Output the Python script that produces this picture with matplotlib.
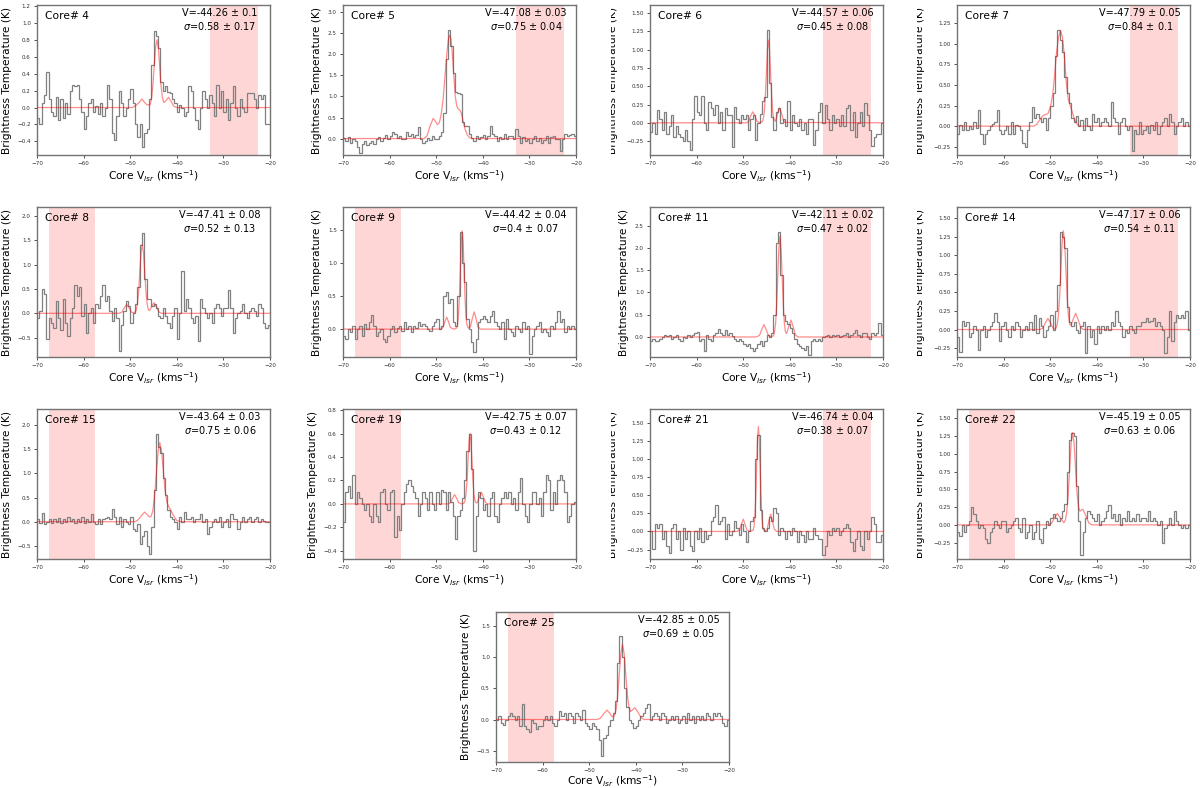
import matplotlib
matplotlib.use('Agg')
import matplotlib.pyplot as plt
import numpy as np
from matplotlib.transforms import Bbox, TransformedBbox

# ---------------- data ----------------
# channel edges of the spectra (km/s), 0.5 km/s channels
v_edges = np.linspace(-70, -20, 101)

t_core4 = [-0.12, -0.2, 0.05, 0.15, 0.42, 0.1, -0.05, -0.1, 0.12, -0.15,
           0.1, -0.12, 0.05, -0.08, 0.2, 0.27, 0.25, 0.27, 0.1, -0.05,
           -0.25, -0.1, 0.05, 0.1, -0.05, 0.02, -0.08, 0.05, -0.1, 0.0,
           0.27, 0.1, -0.3, -0.38, -0.1, 0.2, 0.05, -0.1, 0.0, 0.1,
           0.22, 0.05, -0.2, -0.35, -0.2, -0.47, -0.3, -0.25, 0.1, 0.5,
           0.9, 0.85, 0.7, 0.3, 0.2, 0.25, 0.18, 0.17, 0.1, 0.05,
           -0.05, 0.03, 0.0, -0.1, -0.05, 0.26, 0.2, 0.0, -0.15, -0.25,
           0.0, 0.2, 0.1, 0.0, 0.15, 0.05, -0.1, 0.27, 0.0, 0.2,
           -0.05, 0.1, -0.15, 0.05, 0.25, 0.0, -0.1, 0.1, 0.0, -0.05,
           0.17, 0.17, 0.17, 0.1, 0.0, 0.15, 0.1, 0.15, -0.2, -0.2]
t_core5 = [0.02, -0.05, 0.03, -0.1, 0.0, -0.05, -0.2, -0.35, -0.12, -0.05,
           -0.15, -0.1, -0.05, -0.12, 0.0, 0.03, -0.05, 0.02, 0.08, 0.0,
           0.05, 0.16, 0.1, 0.02, 0.06, -0.02, 0.0, 0.15, 0.05, 0.1,
           0.03, 0.08, 0.28, 0.0, -0.1, -0.05, 0.02, -0.03, 0.05, 0.0,
           0.0, 0.05, 0.15, 0.6, 1.9, 2.58, 2.2, 1.55, 1.1, 1.07,
           1.05, 0.4, 0.3, 0.3, 0.1, 0.02, -0.05, 0.05, 0.0, 0.03,
           0.08, -0.02, 0.05, 0.3, 0.1, 0.05, -0.05, 0.03, 0.0, 0.12,
           0.0, 0.05, 0.05, 0.0, 0.23, 0.05, -0.1, 0.03, -0.05, 0.0,
           -0.1, 0.0, 0.05, -0.05, 0.02, -0.1, -0.03, 0.05, -0.1, 0.03,
           0.05, -0.02, 0.0, -0.3, 0.0, 0.1, 0.05, 0.08, 0.1, 0.05]
t_core6 = [-0.12, 0.0, -0.15, 0.18, 0.05, -0.1, 0.15, -0.15, -0.05, 0.1,
           -0.2, -0.05, -0.15, -0.2, -0.25, -0.1, -0.25, -0.37, 0.05, 0.37,
           0.15, 0.1, 0.37, 0.0, -0.1, 0.28, 0.2, 0.1, 0.25, 0.0,
           0.15, -0.1, 0.2, 0.1, 0.1, -0.33, 0.22, 0.05, 0.0, 0.1,
           0.05, 0.1, -0.1, 0.05, 0.1, -0.24, 0.0, 0.12, 0.3, 0.35,
           1.27, 0.55, 0.08, -0.1, 0.15, 0.2, 0.0, 0.05, -0.05, 0.3,
           -0.1, 0.1, 0.0, -0.05, 0.05, -0.1, 0.0, -0.15, 0.05, 0.05,
           -0.3, -0.1, 0.15, 0.27, 0.0, 0.25, 0.05, -0.1, 0.1, 0.0,
           0.05, -0.05, 0.1, -0.05, 0.2, 0.25, -0.1, 0.15, -0.2, 0.0,
           0.15, -0.05, 0.27, 0.1, -0.1, -0.32, -0.2, -0.15, -0.15, 0.0]
t_core7 = [-0.1, 0.02, -0.05, 0.05, -0.05, 0.0, -0.03, 0.05, -0.02, 0.2,
           -0.1, -0.22, -0.1, -0.05, 0.0, 0.03, 0.05, 0.19, -0.05, -0.1,
           -0.05, 0.0, -0.1, 0.05, -0.1, 0.02, 0.0, -0.05, -0.2, -0.25,
           -0.05, 0.05, 0.23, 0.1, 0.15, 0.1, 0.05, 0.1, -0.05, 0.1,
           0.25, 0.4, 0.85, 1.17, 1.05, 0.9, 0.6, 0.4, 0.28, 0.1,
           0.05, 0.12, 0.0, 0.08, -0.05, 0.1, 0.0, -0.05, 0.15, 0.05,
           0.1, 0.0, 0.05, 0.1, 0.05, 0.0, 0.29, 0.1, 0.05, -0.1,
           0.05, 0.1, 0.0, -0.05, 0.0, -0.3, -0.05, -0.1, 0.05, -0.1,
           -0.05, 0.0, -0.08, 0.02, -0.05, 0.05, -0.1, 0.0, 0.05, 0.1,
           0.0, 0.15, 0.05, -0.1, 0.0, 0.05, 0.1, 0.0, 0.05, 0.0]
t_core8 = [-0.1, 0.05, 0.5, 0.4, -0.53, -0.1, -0.2, -0.3, 0.25, -0.1,
           -0.35, 0.3, -0.2, -0.47, -0.1, 0.1, 0.58, 0.35, 0.55, -0.05,
           0.2, -0.4, 0.0, 0.1, -0.2, 0.2, 0.1, 0.35, 0.58, 0.25,
           0.35, 0.05, -0.15, 0.1, -0.1, -0.78, -0.25, 0.05, 0.25, 0.15,
           -0.2, 0.0, 0.2, 0.55, 1.4, 1.65, 0.7, 0.3, 0.3, 0.15,
           0.2, 0.1, -0.05, -0.1, 0.1, -0.05, -0.2, -0.3, -0.05, 0.1,
           -0.53, 0.0, 0.87, 0.05, 0.3, 0.1, -0.1, -0.2, -0.05, -0.58,
           0.3, 0.1, 0.0, -0.1, 0.0, -0.2, 0.1, 0.2, 0.1, -0.05,
           0.1, 0.1, 0.47, 0.1, -0.4, -0.1, 0.0, 0.05, 0.2, 0.0,
           -0.1, 0.05, 0.1, 0.05, -0.05, 0.2, 0.1, -0.2, -0.3, -0.25]
t_core9 = [-0.1, -0.15, 0.0, -0.05, 0.05, -0.15, 0.0, 0.05, -0.1, 0.08,
           0.0, 0.1, 0.22, 0.05, -0.1, -0.05, 0.0, -0.15, -0.2, -0.1,
           0.0, 0.05, -0.05, 0.02, 0.05, -0.03, 0.1, 0.0, 0.05, -0.05,
           0.05, 0.02, 0.1, 0.05, 0.08, 0.05, 0.0, -0.03, 0.05, 0.1,
           0.15, 0.0, 0.05, 0.5, 0.56, 0.4, 0.45, 0.1, 0.05, 0.5,
           1.46, 1.0, 0.71, 0.15, 0.0, -0.2, -0.34, -0.15, 0.1, 0.15,
           0.2, 0.15, 0.1, 0.2, 0.28, 0.1, 0.05, 0.0, 0.1, -0.15,
           0.15, 0.0, -0.05, -0.1, 0.05, 0.0, -0.05, 0.1, 0.0, 0.05,
           -0.38, -0.1, 0.0, 0.05, 0.1, -0.05, 0.0, -0.05, -0.1, 0.05,
           0.0, 0.1, 0.27, 0.1, 0.15, -0.05, 0.05, 0.0, 0.05, 0.0]
t_core11 = [-0.1, -0.05, -0.1, -0.08, -0.05, 0.0, 0.05, 0.02, 0.05, -0.05,
            0.0, 0.05, -0.05, -0.1, 0.0, -0.03, 0.05, 0.0, 0.05, 0.1,
            0.11, -0.1, -0.05, -0.32, 0.05, -0.05, -0.1, 0.05, 0.1, 0.19,
            0.1, 0.05, 0.15, 0.05, 0.1, 0.02, -0.05, -0.1, -0.05, -0.1,
            -0.15, -0.2, -0.15, -0.25, -0.32, -0.25, -0.15, -0.1, -0.2, -0.1,
            0.05, 0.0, 0.1, 0.5, 2.1, 2.35, 1.4, 0.5, 0.35, 0.3,
            0.2, 0.1, -0.05, -0.15, -0.2, -0.25, -0.3, -0.2, -0.4, -0.1,
            -0.05, -0.1, -0.05, -0.1, 0.0, 0.02, 0.05, 0.0, 0.05, 0.03,
            0.05, 0.0, 0.02, 0.05, 0.1, 0.0, 0.05, 0.1, 0.15, 0.05,
            0.0, 0.08, 0.1, 0.0, -0.05, 0.1, 0.05, 0.1, 0.32, 0.05]
t_core14 = [-0.1, -0.3, 0.12, 0.05, 0.1, -0.1, -0.05, 0.05, 0.0, -0.27,
            0.0, 0.05, -0.1, 0.0, 0.05, 0.1, 0.22, 0.1, -0.15, 0.05,
            0.1, 0.0, -0.1, 0.05, 0.0, 0.1, 0.05, -0.1, 0.0, 0.05,
            0.0, 0.1, 0.0, 0.2, -0.05, 0.15, 0.05, -0.1, 0.0, 0.05,
            0.2, 0.0, 0.25, 0.6, 1.31, 1.25, 1.1, 0.3, 0.1, 0.05,
            0.1, 0.0, -0.05, 0.05, 0.1, -0.32, 0.05, -0.1, 0.0, -0.2,
            0.05, -0.05, 0.05, 0.0, 0.05, 0.0, 0.1, 0.05, 0.25, 0.1,
            0.05, -0.1, 0.0, -0.05, 0.05, 0.0, -0.05, 0.05, 0.05, 0.1,
            0.1, 0.16, 0.1, 0.12, 0.15, 0.05, 0.1, 0.05, 0.0, -0.32,
            -0.1, 0.25, -0.15, 0.1, 0.2, 0.15, 0.2, 0.15, 0.25, 0.0]
t_core15 = [0.05, -0.02, 0.19, -0.05, 0.0, 0.05, -0.03, 0.05, 0.0, 0.08,
            -0.02, 0.05, 0.0, 0.1, 0.02, 0.06, -0.03, 0.05, 0.0, 0.1,
            -0.03, 0.05, 0.0, 0.16, 0.0, -0.05, 0.05, -0.05, 0.05, 0.08,
            0.1, 0.05, 0.26, 0.1, -0.05, 0.1, -0.1, 0.05, 0.0, -0.05,
            0.1, -0.15, -0.2, -0.05, -0.47, -0.3, -0.2, -0.5, -0.67, -0.1,
            0.65, 1.81, 1.55, 1.43, 0.9, 0.56, 0.25, 0.1, 0.05, 0.0,
            -0.15, 0.1, 0.0, 0.2, 0.05, 0.05, 0.1, 0.0, 0.05, 0.05,
            0.15, 0.0, 0.05, -0.26, -0.1, 0.0, 0.05, 0.0, 0.1, -0.1,
            0.0, 0.05, -0.1, 0.15, 0.05, 0.05, -0.15, 0.0, 0.1, 0.0,
            0.05, 0.1, 0.0, 0.05, 0.1, 0.0, 0.05, 0.02, 0.0, 0.0]
t_core19 = [-0.15, 0.1, 0.15, 0.05, 0.25, 0.0, 0.1, 0.05, 0.0, -0.05,
            0.0, -0.1, -0.15, 0.0, -0.1, -0.15, 0.1, 0.13, 0.0, -0.05,
            0.1, 0.12, -0.28, -0.1, -0.22, 0.0, 0.1, 0.17, 0.2, 0.15,
            0.1, 0.05, -0.1, 0.0, 0.1, 0.05, -0.05, 0.1, 0.0, -0.05,
            0.1, 0.0, 0.12, 0.1, -0.05, 0.1, 0.02, -0.1, -0.3, -0.1,
            -0.05, 0.05, 0.2, 0.45, 0.6, 0.3, -0.4, -0.1, 0.1, 0.05,
            -0.05, 0.0, -0.1, 0.05, 0.1, -0.1, -0.15, 0.0, 0.05, 0.1,
            0.05, 0.1, 0.0, 0.05, -0.05, 0.1, 0.22, 0.0, -0.1, -0.15,
            0.0, 0.1, 0.1, 0.0, 0.05, -0.1, 0.1, 0.25, 0.2, -0.05,
            0.1, 0.0, 0.2, 0.25, 0.2, 0.1, -0.15, -0.1, 0.0, 0.02]
t_core21 = [0.0, -0.24, 0.1, 0.05, 0.1, -0.1, 0.0, -0.2, -0.3, 0.05,
            0.1, -0.1, 0.0, -0.25, 0.05, -0.1, 0.0, -0.2, -0.27, 0.0,
            -0.1, 0.05, -0.15, 0.0, -0.1, -0.05, 0.15, 0.2, 0.36, 0.1,
            0.15, 0.2, -0.1, 0.1, -0.05, 0.0, 0.15, 0.05, -0.05, 0.1,
            0.0, -0.15, 0.0, 0.15, 0.2, 1.0, 1.33, 0.3, 0.05, 0.0,
            0.05, 0.2, 0.15, 0.32, 0.25, -0.05, 0.05, 0.0, -0.1, 0.0,
            -0.05, 0.05, 0.0, -0.15, 0.0, -0.05, -0.15, 0.0, -0.1, -0.1,
            0.05, -0.05, -0.1, -0.1, -0.33, -0.2, 0.0, -0.05, 0.05, 0.0,
            0.05, -0.05, 0.0, 0.05, 0.1, 0.05, -0.15, -0.27, -0.1, 0.0,
            -0.2, -0.25, 0.0, -0.1, 0.0, 0.2, 0.1, -0.15, -0.15, -0.05]
t_core22 = [-0.1, -0.16, 0.0, -0.1, 0.0, 0.05, 0.25, 0.15, 0.05, -0.05,
            0.0, -0.05, -0.2, -0.25, -0.1, -0.05, 0.05, 0.0, -0.05, 0.05,
            0.05, -0.1, -0.05, 0.0, 0.05, 0.1, -0.05, -0.1, 0.1, -0.18,
            -0.1, 0.0, -0.2, -0.1, 0.05, -0.2, -0.25, -0.05, 0.05, 0.0,
            0.1, 0.16, 0.1, 0.05, 0.1, 0.2, 0.3, 0.75, 1.2, 1.29,
            1.25, 0.55, 0.05, -0.42, -0.1, 0.1, 0.2, 0.15, 0.1, 0.05,
            0.15, 0.0, 0.05, 0.1, 0.2, 0.28, 0.1, 0.15, 0.05, 0.15,
            0.0, 0.1, 0.05, 0.2, 0.05, 0.1, 0.05, 0.15, 0.05, 0.1,
            0.1, 0.05, 0.2, 0.05, 0.1, 0.05, 0.0, 0.05, -0.25, -0.05,
            0.0, 0.1, 0.0, 0.19, 0.05, 0.0, -0.05, 0.0, -0.05, 0.0]
t_core25 = [0.0, 0.05, -0.05, -0.09, 0.0, 0.05, 0.1, 0.05, 0.0, 0.05,
            -0.1, 0.25, -0.1, -0.15, -0.2, 0.0, -0.05, -0.15, -0.1, -0.1,
            0.0, 0.05, 0.0, 0.05, -0.05, -0.1, 0.0, 0.13, 0.05, 0.1,
            0.0, 0.1, 0.05, -0.05, 0.1, 0.05, 0.0, 0.16, -0.05, -0.1,
            -0.15, -0.05, -0.1, -0.15, -0.32, -0.58, -0.3, -0.25, -0.1, 0.0,
            0.1, 0.3, 0.9, 1.33, 1.0, 0.5, 0.2, 0.0, -0.05, -0.14,
            -0.1, 0.0, 0.05, 0.1, 0.19, 0.25, 0.0, 0.05, 0.1, 0.05,
            0.0, 0.1, 0.05, -0.05, 0.0, 0.05, 0.0, 0.05, -0.05, 0.0,
            0.05, -0.05, 0.1, 0.0, 0.05, -0.05, 0.05, 0.0, 0.05, 0.0,
            0.1, 0.05, 0.0, 0.1, 0.05, 0.1, 0.05, -0.05, -0.1, 0.0]

# fitted model curves (velocity, temperature)
fv_core4 = [-70, -49.5, -48.66, -48.08, -47.5, -46.92, -46.34, -45.7, -45.42, -45.13, -44.84, -44.55,
            -44.26, -43.97, -43.68, -43.39, -43.1, -42.81, -42.38, -41.8, -41.22, -40.64, -40.0, -20]
ft_core4 = [0, 0, 0.03, 0.06, 0.1, 0.06, 0.03, 0.035, 0.11, 0.26, 0.49, 0.71,
            0.8, 0.71, 0.49, 0.26, 0.12, 0.06, 0.077, 0.12, 0.073, 0.016, 0, 0]
fv_core5 = [-70, -52.6, -52.0, -51.4, -50.65, -50.1, -49.75, -49.3, -48.9, -48.5, -48.1, -47.7, -47.35, -47.08,
            -46.8, -46.5, -46.2, -45.9, -45.6, -45.3, -44.95, -44.6, -44.2, -43.8, -43.3, -42.8, -42.2, -20]
ft_core5 = [0, 0, 0.06, 0.27, 0.48, 0.4, 0.33, 0.38, 0.6, 0.95, 1.5, 2.05, 2.38, 2.45,
            2.35, 1.95, 1.45, 1.0, 0.78, 0.7, 0.68, 0.6, 0.4, 0.22, 0.08, 0.02, 0, 0]
fv_core6 = [-70, -49.2, -48.8, -48.35, -47.95, -47.5, -47.1, -46.5, -45.9, -45.7, -45.47, -45.245, -45.02, -44.795,
            -44.57, -44.345, -44.12, -43.895, -43.67, -43.445, -43.1, -42.9, -42.6, -42.2, -41.8, -41.4, -41.0, -20]
ft_core6 = [0, 0, 0.025, 0.1, 0.15, 0.1, 0.025, 0.0, 0.015, 0.05, 0.15, 0.37, 0.69, 1.0,
            1.13, 1.0, 0.69, 0.37, 0.15, 0.055, 0.02, 0.06, 0.135, 0.2, 0.135, 0.04, 0.005, 0]
fv_core7 = [-70, -53.6, -52.9, -52.2, -51.5, -51.0, -50.5, -50.0, -49.47, -49.05, -48.63, -48.21,
            -47.79, -47.37, -46.95, -46.53, -46.11, -45.7, -45.2, -44.7, -44.2, -43.6, -20]
ft_core7 = [0, 0, 0.02, 0.08, 0.13, 0.14, 0.15, 0.22, 0.38, 0.62, 0.9, 1.08,
            1.16, 1.08, 0.85, 0.52, 0.32, 0.25, 0.16, 0.07, 0.02, 0, 0]
fv_core8 = [-70, -52.4, -51.79, -51.27, -50.75, -50.23, -49.71, -49.2, -48.71, -48.45, -48.19, -47.93, -47.67,
            -47.41, -47.15, -46.89, -46.63, -46.37, -46.11, -45.85, -45.42, -44.9, -44.38, -43.86, -43.3, -20]
ft_core8 = [0, 0, 0.024, 0.11, 0.18, 0.11, 0.024, 0.005, 0.06, 0.19, 0.46, 0.86, 1.25,
            1.42, 1.25, 0.86, 0.46, 0.195, 0.075, 0.057, 0.134, 0.22, 0.134, 0.03, 0, 0]
fv_core9 = [-70, -49.0, -48.55, -48.15, -47.75, -47.35, -46.95, -46.2, -45.62, -45.42, -45.22, -45.02, -44.82, -44.62,
            -44.42, -44.22, -44.02, -43.82, -43.62, -43.42, -43.1, -42.65, -42.25, -41.85, -41.45, -41.05, -40.5, -20]
ft_core9 = [0, 0, 0.024, 0.11, 0.18, 0.11, 0.024, 0.0, 0.016, 0.065, 0.2, 0.48, 0.9, 1.305,
            1.48, 1.305, 0.9, 0.48, 0.2, 0.07, 0.015, 0.035, 0.16, 0.26, 0.16, 0.035, 0.0, 0]
fv_core11 = [-70, -47.2, -46.49, -46.02, -45.55, -45.08, -44.61, -44.1, -43.52, -43.285, -43.05, -42.815, -42.58,
             -42.345, -42.11, -41.875, -41.64, -41.405, -41.17, -40.935, -40.69, -40.22, -39.75, -39.28, -38.81,
             -38.3, -20]
ft_core11 = [0, 0, 0.038, 0.17, 0.28, 0.17, 0.038, 0.003, 0.025, 0.10, 0.305, 0.73, 1.37,
             1.99, 2.26, 1.99, 1.37, 0.73, 0.31, 0.116, 0.076, 0.23, 0.38, 0.23, 0.051,
             0, 0]
fv_core14 = [-70, -52.2, -51.58, -51.04, -50.5, -49.96, -49.42, -49.05, -48.79, -48.52, -48.25, -47.98, -47.71,
             -47.44, -47.17, -46.9, -46.63, -46.36, -46.09, -45.82, -45.55, -45.09, -44.55, -44.01, -43.47,
             -42.9, -20]
ft_core14 = [0, 0, 0.02, 0.09, 0.15, 0.09, 0.02, 0.006, 0.015, 0.059, 0.18, 0.43, 0.81,
             1.17, 1.33, 1.17, 0.81, 0.43, 0.185, 0.073, 0.055, 0.134, 0.22, 0.134, 0.03,
             0, 0]
fv_core15 = [-70, -49.0, -48.4, -47.65, -46.9, -46.15, -45.89, -45.515, -45.14, -44.765, -44.39, -44.015,
             -43.64, -43.265, -42.89, -42.515, -42.14, -41.765, -41.39, -40.85, -40.1, -39.35, -38.8, -20]
ft_core15 = [0, 0, 0.027, 0.121, 0.2, 0.127, 0.1, 0.108, 0.233, 0.53, 0.99, 1.44,
             1.636, 1.46, 1.05, 0.65, 0.41, 0.316, 0.258, 0.152, 0.034, 0.003, 0, 0]
fv_core19 = [-70, -47.4, -46.91, -46.48, -46.05, -45.62, -45.19, -44.6, -44.04, -43.825, -43.61, -43.395, -43.18,
             -42.965, -42.75, -42.535, -42.32, -42.105, -41.89, -41.675, -41.46, -41.16, -40.73, -40.3, -39.87,
             -39.44, -38.9, -20]
ft_core19 = [0, 0, 0.011, 0.049, 0.08, 0.049, 0.011, 0.0, 0.007, 0.026, 0.081, 0.195, 0.364,
             0.53, 0.6, 0.53, 0.364, 0.195, 0.081, 0.027, 0.009, 0.0135, 0.061, 0.1, 0.061,
             0.0135, 0, 0]
fv_core21 = [-70, -51.3, -50.76, -50.38, -50.0, -49.62, -49.24, -48.5, -47.88, -47.69, -47.5, -47.31, -47.12,
             -46.93, -46.74, -46.55, -46.36, -46.17, -45.98, -45.79, -45.6, -45.24, -44.86, -44.48, -44.1,
             -43.72, -43.34, -42.8, -20]
ft_core21 = [0, 0, 0.023, 0.103, 0.17, 0.103, 0.023, 0, 0.016, 0.064, 0.196, 0.47, 0.88,
             1.28, 1.45, 1.28, 0.88, 0.47, 0.196, 0.064, 0.017, 0.003, 0.032, 0.146, 0.24,
             0.146, 0.032, 0, 0]
fv_core22 = [-70, -50.4, -49.71, -49.08, -48.45, -47.82, -47.08, -46.765, -46.45, -46.135, -45.82, -45.505,
             -45.19, -44.875, -44.56, -44.245, -43.93, -43.615, -43.3, -43.0, -42.37, -41.74, -41.1, -20]
ft_core22 = [0, 0, 0.022, 0.097, 0.16, 0.097, 0.03, 0.062, 0.176, 0.42, 0.79, 1.15,
             1.3, 1.15, 0.8, 0.45, 0.25, 0.193, 0.21, 0.22, 0.134, 0.03, 0, 0]
fv_core25 = [-70, -48.4, -47.58, -46.89, -46.2, -45.51, -45.2, -44.92, -44.575, -44.23, -43.885, -43.54, -43.195,
             -42.85, -42.505, -42.16, -41.815, -41.47, -41.125, -40.78, -40.2, -39.51, -38.82, -38.2, -20]
ft_core25 = [0, 0, 0.02, 0.091, 0.15, 0.092, 0.056, 0.04, 0.062, 0.162, 0.39, 0.73, 1.06,
             1.2, 1.06, 0.733, 0.40, 0.197, 0.13, 0.147, 0.19, 0.115, 0.026, 0, 0]

core_names = ['4', '5', '6', '7', '8', '9', '11', '14', '15', '19', '21', '22', '25']
v_fit_text = ['-44.26 ± 0.1', '-47.08 ± 0.03', '-44.57 ± 0.06', '-47.79 ± 0.05',
              '-47.41 ± 0.08', '-44.42 ± 0.04', '-42.11 ± 0.02', '-47.17 ± 0.06',
              '-43.64 ± 0.03', '-42.75 ± 0.07', '-46.74 ± 0.04', '-45.19 ± 0.05',
              '-42.85 ± 0.05']
sigma_fit_text = ['0.58 ± 0.17', '0.75 ± 0.04', '0.45 ± 0.08', '0.84 ± 0.1',
                  '0.52 ± 0.13', '0.4 ± 0.07', '0.47 ± 0.02', '0.54 ± 0.11',
                  '0.75 ± 0.06', '0.43 ± 0.12', '0.38 ± 0.07', '0.63 ± 0.06',
                  '0.69 ± 0.05']
# baseline (shaded) windows
window_left = (-67.5, -57.5)
window_right = (-32.8, -22.5)
window_side = ['R', 'R', 'R', 'R', 'L', 'L', 'R', 'R', 'L', 'L', 'R', 'L', 'L']
y_limits = [(-0.56, 1.21), (-0.39, 3.17), (-0.44, 1.61), (-0.35, 1.47),
            (-0.90, 2.19), (-0.42, 1.84), (-0.45, 2.92), (-0.37, 1.65),
            (-0.77, 2.33), (-0.47, 0.81), (-0.38, 1.69), (-0.48, 1.63),
            (-0.68, 1.72)]
y_ticks = [[-0.4, -0.2, 0.0, 0.2, 0.4, 0.6, 0.8, 1.0, 1.2],
           [0.0, 0.5, 1.0, 1.5, 2.0, 2.5, 3.0],
           [-0.25, 0.0, 0.25, 0.5, 0.75, 1.0, 1.25, 1.5],
           [-0.25, 0.0, 0.25, 0.5, 0.75, 1.0, 1.25],
           [-0.5, 0.0, 0.5, 1.0, 1.5, 2.0],
           [0.0, 0.5, 1.0, 1.5],
           [0.0, 0.5, 1.0, 1.5, 2.0, 2.5],
           [-0.25, 0.0, 0.25, 0.5, 0.75, 1.0, 1.25, 1.5],
           [-0.5, 0.0, 0.5, 1.0, 1.5, 2.0],
           [-0.4, -0.2, 0.0, 0.2, 0.4, 0.6, 0.8],
           [-0.25, 0.0, 0.25, 0.5, 0.75, 1.0, 1.25, 1.5],
           [-0.25, 0.0, 0.25, 0.5, 0.75, 1.0, 1.25, 1.5],
           [-0.5, 0.0, 0.5, 1.0, 1.5]]
x_ticks = [-70, -60, -50, -40, -30, -20]
# panels whose y-label is cut on its left side in the original composite
clipped_label = ['6', '7', '14', '21', '22']

spectra = [t_core4, t_core5, t_core6, t_core7, t_core8, t_core9, t_core11,
           t_core14, t_core15, t_core19, t_core21, t_core22, t_core25]
fit_v = [fv_core4, fv_core5, fv_core6, fv_core7, fv_core8, fv_core9, fv_core11,
         fv_core14, fv_core15, fv_core19, fv_core21, fv_core22, fv_core25]
fit_t = [ft_core4, ft_core5, ft_core6, ft_core7, ft_core8, ft_core9, ft_core11,
         ft_core14, ft_core15, ft_core19, ft_core21, ft_core22, ft_core25]

# ---------------- figure ----------------
W, H = 1200, 788
fig = plt.figure(figsize=(W / 100, H / 100), dpi=100)
col_left = [37, 343, 650, 957]
row_top = [5, 207, 409, 612]
aw, ah = 233, 150

for k in range(len(core_names)):
    if k < 12:
        r, c = divmod(k, 4)
        lx = col_left[c]
    else:
        r = 3
        lx = 496
    ty = row_top[r]
    ax = fig.add_axes([lx / W, 1 - (ty + ah) / H, aw / W, ah / H])

    win = window_left if window_side[k] == 'L' else window_right
    ax.axvspan(win[0], win[1], color='red', alpha=0.16, lw=0, zorder=0)

    ax.stairs(spectra[k], v_edges, baseline=None, color='grey', lw=0.9, zorder=2)
    ax.plot(fit_v[k], fit_t[k], color='red', alpha=0.45, lw=0.9, zorder=3)

    ax.set_xlim(-70, -20)
    ax.set_ylim(*y_limits[k])
    ax.set_xticks(x_ticks)
    ax.set_yticks(y_ticks[k])
    ax.tick_params(labelsize=4.1, length=2.5, width=0.6, pad=2, colors='0.2')
    for sp in ax.spines.values():
        sp.set_color('0.45')
        sp.set_linewidth(1.0)

    ax.set_xlabel(r'Core V$_{lsr}$ (kms$^{-1}$)', fontsize=7.7,
                  labelpad=(0.6 if r == 3 else 1.5))
    ax.set_ylabel('Brightness Temperature (K)', fontsize=7.7)
    if core_names[k] in clipped_label:
        ax.yaxis.set_label_coords(-32.0 / aw, 0.5)
        lab = ax.yaxis.label
        clip = TransformedBbox(Bbox([[(lx - 39.5) / W, 0.0], [1.0, 1.0]]), fig.transFigure)
        lab.set_clip_box(clip)
        lab.set_clip_on(True)

    ax.text(0.036, 0.927, 'Core# ' + core_names[k], transform=ax.transAxes,
            fontsize=7.7, ha='left', va='center')
    ax.text(0.785, 0.9, 'V=' + v_fit_text[k] + '\n' + r'$\sigma$=' + sigma_fit_text[k],
            transform=ax.transAxes, fontsize=7, ha='center', va='center',
            multialignment='center')

fig.savefig('out.png', dpi=100)
